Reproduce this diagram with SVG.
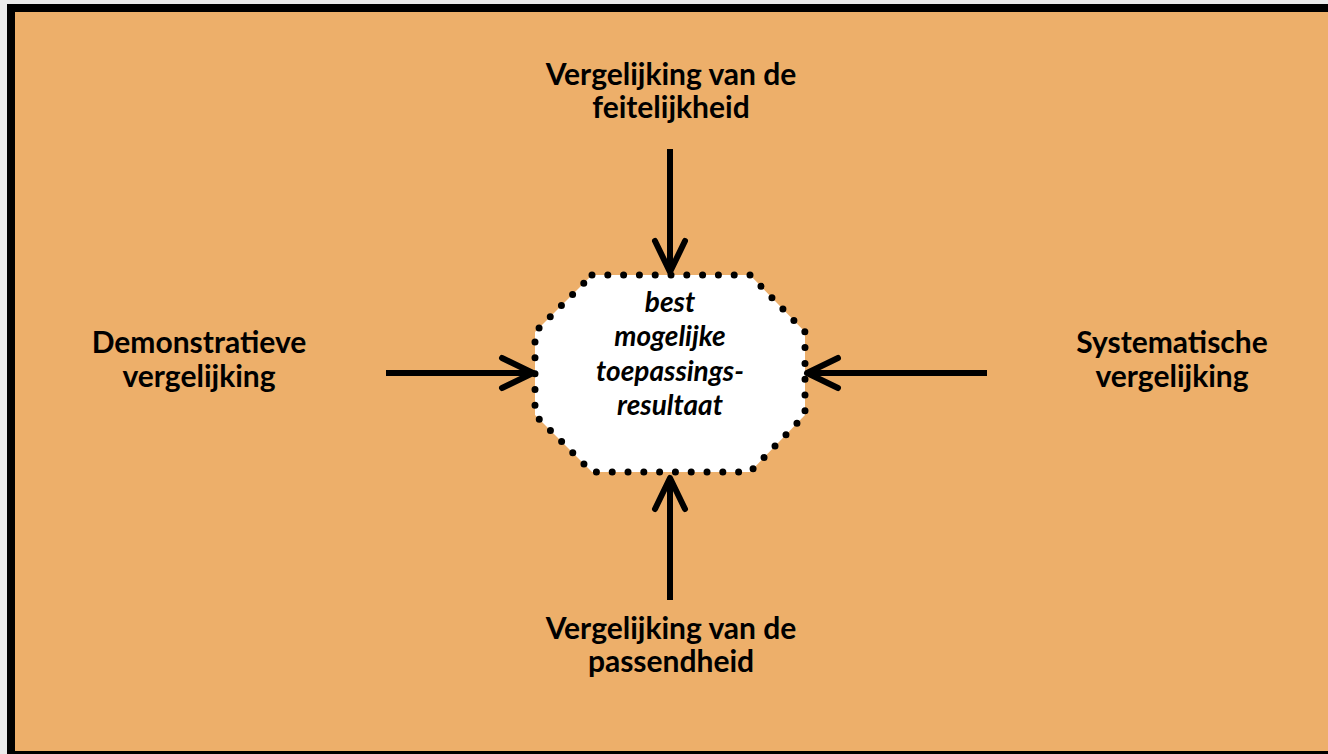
<svg xmlns="http://www.w3.org/2000/svg" width="1328" height="754" viewBox="0 0 1328 754">
  <style>
    .lbl { font-family: Lato, "Liberation Sans", sans-serif; font-weight: bold; font-size: 30px; fill: #000; text-anchor: middle; }
    .ctr { font-family: Lato, "Liberation Sans", sans-serif; font-weight: bold; font-style: italic; font-size: 28px; fill: #000; text-anchor: middle; }
    .conn { stroke: #000; stroke-width: 6; fill: none; marker-end: url(#chev); }
  </style>
  <defs>
    <marker id="chev" markerUnits="userSpaceOnUse" viewBox="-40 -22 48 44" refX="0" refY="0" markerWidth="48" markerHeight="44" orient="auto" overflow="visible">
      <path d="M -31 -15 L 0 0 L -31 15" fill="none" stroke="#000" stroke-width="6" stroke-linecap="round" stroke-linejoin="round"/>
    </marker>
  </defs>
  <rect x="0" y="0" width="1328" height="754" fill="#ebebeb"/>
  <rect x="7" y="4" width="1330" height="760" fill="#000"/>
  <rect x="15" y="12" width="1320" height="739" fill="#EDAF6A"/>

  <g id="center">
    <polygon points="592,275 750,275 805,332 805,415 750,472 592,472 535,415 535,332" fill="#fff" stroke="#000" stroke-width="7" stroke-linecap="round" stroke-dasharray="0 15.8"/>
    <text class="ctr" x="670" y="312">best</text>
    <text class="ctr" x="670" y="346">mogelijke</text>
    <text class="ctr" x="670" y="381">toepassings-</text>
    <text class="ctr" x="670" y="415">resultaat</text>
  </g>

  <g id="top">
    <text class="lbl" x="671" y="85">Vergelijking van de</text>
    <text class="lbl" x="671" y="118">feitelijkheid</text>
  </g>
  <g id="left">
    <text class="lbl" x="199" y="353">Demonstratieve</text>
    <text class="lbl" x="199" y="387">vergelijking</text>
  </g>
  <g id="right">
    <text class="lbl" x="1172" y="353">Systematische</text>
    <text class="lbl" x="1172" y="387">vergelijking</text>
  </g>
  <g id="bottom">
    <text class="lbl" x="671" y="639">Vergelijking van de</text>
    <text class="lbl" x="671" y="672">passendheid</text>
  </g>

  <g id="connectors">
    <line class="conn" x1="670" y1="149" x2="670" y2="272"/>
    <line class="conn" x1="386" y1="373" x2="533" y2="373"/>
    <line class="conn" x1="987" y1="373" x2="807" y2="373"/>
    <line class="conn" x1="670" y1="600" x2="670" y2="478"/>
  </g>
</svg>
